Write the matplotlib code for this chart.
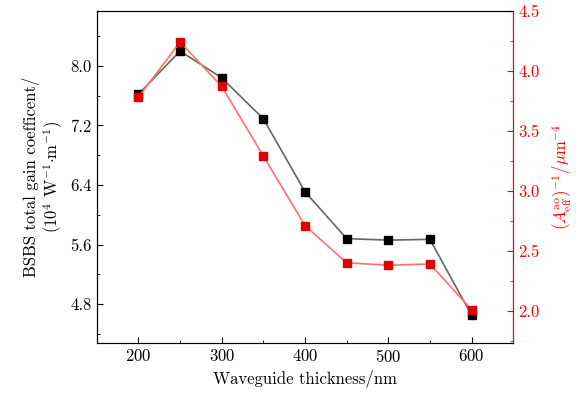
import numpy as np
import matplotlib
matplotlib.use('Agg')
import matplotlib.pyplot as plt
from matplotlib.ticker import MultipleLocator

plt.rcParams['font.family'] = 'serif'
plt.rcParams['font.serif'] = ['cmr10']
plt.rcParams['mathtext.fontset'] = 'cm'
plt.rcParams['axes.formatter.use_mathtext'] = True

# Data
thickness = [200, 250, 300, 350, 400, 450, 500, 550, 600]
gain = [7.62, 8.20, 7.84, 7.29, 6.31, 5.68, 5.66, 5.67, 4.65]
inv_area = [3.78, 4.24, 3.87, 3.29, 2.71, 2.40, 2.38, 2.39, 2.01]

fig, ax = plt.subplots(figsize=(5.76, 4.01), dpi=100)
fig.subplots_adjust(left=0.168, right=0.891, top=0.973, bottom=0.145)

ax.plot(thickness, gain, color='#666666', lw=1.2, marker='s', ms=5.5,
        mfc='black', mec='black', zorder=3)
ax.set_xlim(150, 650)
ax.set_ylim(4.28, 8.74)
ax.xaxis.set_major_locator(MultipleLocator(100))
ax.xaxis.set_minor_locator(MultipleLocator(50))
ax.yaxis.set_major_locator(MultipleLocator(0.8))
ax.yaxis.set_minor_locator(MultipleLocator(0.4))
ax.yaxis.set_major_formatter(matplotlib.ticker.FormatStrFormatter('%.1f'))
ax.tick_params(which='both', direction='in', top=False, labelsize=12)
ax.tick_params(which='major', length=4)
ax.tick_params(which='minor', length=2.5)
ax.set_xlabel('Waveguide thickness/nm', fontsize=12)
ax.set_ylabel('BSBS total gain coefficent/\n($10^4$ W$^{-1}$$\\cdot$m$^{-1}$)',
              fontsize=12, linespacing=1.1)

ax2 = ax.twinx()
ax2.plot(thickness, inv_area, color='#ff7070', lw=1.2, marker='s', ms=5.5,
         mfc='#e00000', mec='#e00000', zorder=3)
ax2.set_ylim(1.733, 4.5)
ax2.yaxis.set_major_locator(MultipleLocator(0.5))
ax2.yaxis.set_minor_locator(MultipleLocator(0.25))
ax2.yaxis.set_major_formatter(matplotlib.ticker.FormatStrFormatter('%.1f'))
ax2.tick_params(which='both', direction='in', colors='red', labelsize=12)
ax2.tick_params(which='major', length=4)
ax2.tick_params(which='minor', length=2.5)
ax2.spines['right'].set_color('red')
ax2.set_ylabel('$(A_{\\rm eff}^{\\rm ao})^{-1}$/$\\mu$m$^{-4}$', color='red',
               fontsize=12, labelpad=8)

plt.savefig('out.png', dpi=100)
